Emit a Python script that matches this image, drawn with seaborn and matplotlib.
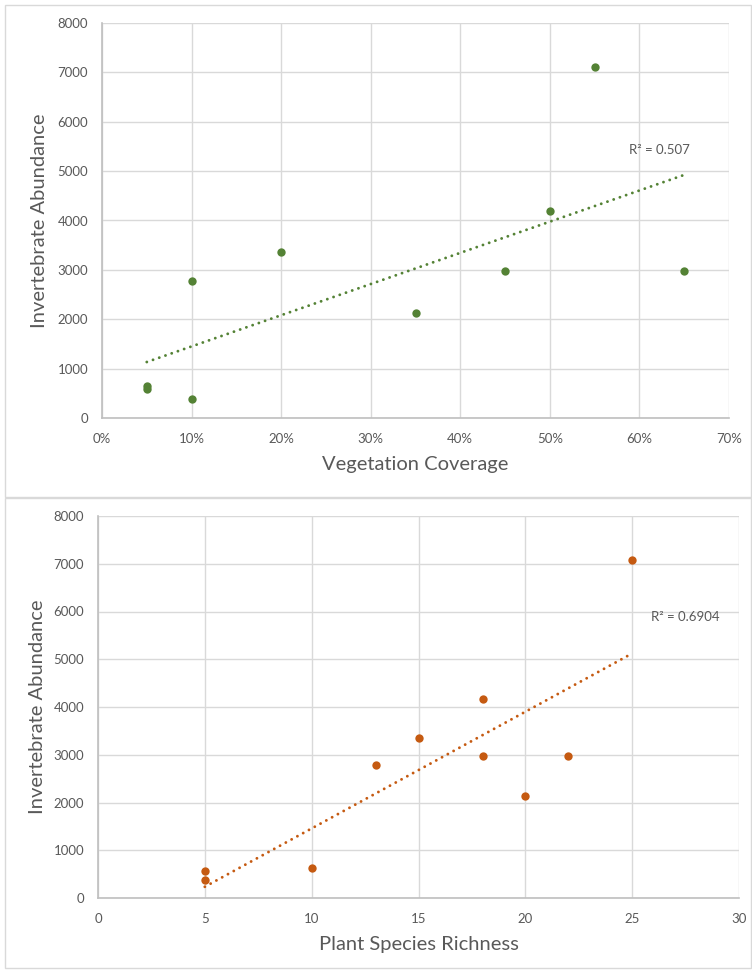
import numpy as np
import pandas as pd
import seaborn as sns
import matplotlib
matplotlib.use("Agg")
import matplotlib.pyplot as plt
from matplotlib.patches import Rectangle
from matplotlib.ticker import FuncFormatter

# ---- data ----
veg_cover = [0.05, 0.05, 0.10, 0.10, 0.20, 0.35, 0.45, 0.50, 0.55, 0.65]
abund_veg = [640, 580, 2780, 380, 3370, 2120, 2980, 4200, 7100, 2980]

richness = [5, 5, 10, 13, 15, 18, 18, 20, 22, 25]
abund_rich = [570, 370, 630, 2780, 3360, 4170, 2970, 2130, 2970, 7080]

r2_top = "R² = 0.507"
r2_bottom = "R² = 0.6904"

x_ticks_top = [0, 0.1, 0.2, 0.3, 0.4, 0.5, 0.6, 0.7]
x_ticks_bottom = [0, 5, 10, 15, 20, 25, 30]
y_ticks = [0, 1000, 2000, 3000, 4000, 5000, 6000, 7000, 8000]

GREEN = "#548235"
ORANGE = "#C55A11"
TXT = "#595959"
GRID = "#D9D9D9"

sns.set_theme(style="white")
plt.rcParams["font.family"] = ["Lato", "DejaVu Sans"]

fig = plt.figure(figsize=(7.52, 9.72), dpi=100)

# panel borders
fig.patches.append(Rectangle((5 / 752, 1 - 497 / 972), 746 / 752, 492 / 972,
                             transform=fig.transFigure, fill=False,
                             edgecolor="#D9D9D9", linewidth=1.0))
fig.patches.append(Rectangle((5 / 752, 1 - 968 / 972), 746 / 752, 470 / 972,
                             transform=fig.transFigure, fill=False,
                             edgecolor="#D9D9D9", linewidth=1.0))

ax1 = fig.add_axes([102 / 752, 1 - 418 / 972, 627 / 752, 395 / 972])
ax2 = fig.add_axes([98 / 752, 1 - 898 / 972, 641 / 752, 382 / 972])


def style(ax, xticks, xlabel, fmt, xpad, ylabx):
    ax.set_ylim(0, 8000)
    ax.set_yticks(y_ticks)
    ax.set_xticks(xticks)
    ax.set_xlim(xticks[0], xticks[-1])
    ax.xaxis.set_major_formatter(fmt)
    ax.grid(True, color=GRID, linewidth=1.0)
    ax.set_axisbelow(True)
    for s in ["top", "right"]:
        ax.spines[s].set_visible(False)
    for s in ["left", "bottom"]:
        ax.spines[s].set_color("#BFBFBF")
        ax.spines[s].set_linewidth(1.2)
    ax.tick_params(axis="both", length=0, colors=TXT, labelsize=9.5)
    ax.tick_params(axis="y", pad=10)
    ax.tick_params(axis="x", pad=xpad)
    ax.set_xlabel(xlabel, color=TXT, fontsize=14.5, labelpad=8)
    ax.set_ylabel("Invertebrate Abundance", color=TXT, fontsize=14.5)
    ax.yaxis.set_label_coords(ylabx, 0.5)


def panel(ax, x, y, color):
    df = pd.DataFrame({"x": x, "y": y})
    sns.scatterplot(data=df, x="x", y="y", ax=ax, color=color, s=36,
                    edgecolor=color, linewidth=0, zorder=3)
    b, a = np.polyfit(df["x"], df["y"], 1)
    xs = np.array([df["x"].min(), df["x"].max()])
    fit = pd.DataFrame({"x": xs, "y": a + b * xs})
    sns.lineplot(data=fit, x="x", y="y", ax=ax, color=color,
                 linestyle=(0, (0.01, 2.25)), linewidth=2.1,
                 dash_capstyle="round", zorder=2)


panel(ax1, veg_cover, abund_veg, GREEN)
style(ax1, x_ticks_top, "Vegetation Coverage",
      FuncFormatter(lambda v, p: f"{v*100:.0f}%"), 11, -0.086)
ax1.text(0.622, 5420, r2_top, color=TXT, fontsize=9.5, ha="center", va="center")

panel(ax2, richness, abund_rich, ORANGE)
style(ax2, x_ticks_bottom, "Plant Species Richness",
      FuncFormatter(lambda v, p: f"{v:.0f}"), 11, -0.081)
ax2.text(27.5, 5890, r2_bottom, color=TXT, fontsize=9.5, ha="center", va="center")

fig.savefig("out.png", dpi=100)
